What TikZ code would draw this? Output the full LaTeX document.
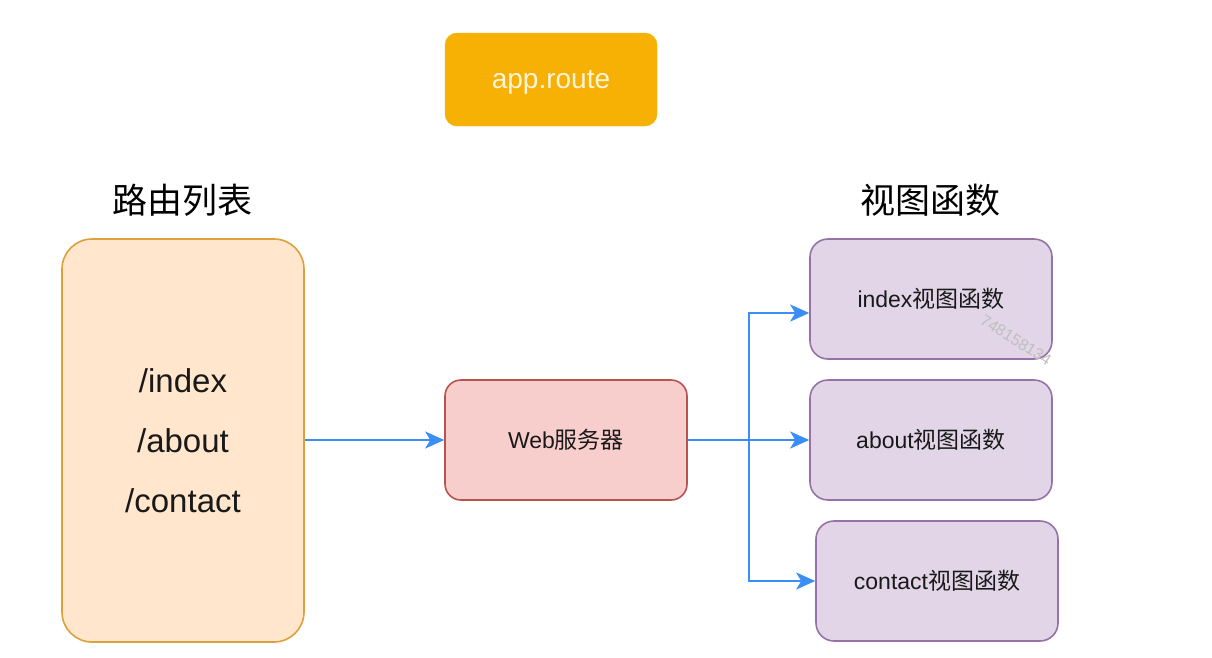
\documentclass[tikz,border=0pt]{standalone}
\usepackage{fontspec}
\setmainfont{Liberation Sans}
\newfontfamily\cjk{Noto Sans CJK SC}
\usetikzlibrary{arrows.meta,positioning}
\definecolor{routefill}{HTML}{F6B104}
\definecolor{listfill}{HTML}{FFE6CC}
\definecolor{listline}{HTML}{DDA03A}
\definecolor{webfill}{HTML}{F8CECC}
\definecolor{webline}{HTML}{B85450}
\definecolor{viewfill}{HTML}{E1D5E7}
\definecolor{viewline}{HTML}{9673A6}
\definecolor{flowblue}{HTML}{3A8EF6}
\definecolor{cream}{HTML}{FFF4DA}

\begin{document}
\begin{tikzpicture}[x=1pt,y=-1pt,
  box/.style={draw,line width=1.6pt,minimum width=242pt,minimum height=120pt,
    rounded corners=18pt,font=\fontsize{23}{28}\selectfont,text=black!90},
  flow/.style={flowblue,line width=2pt,-{Stealth[length=19pt,width=17pt,inset=5pt]}},
  title/.style={font=\cjk\fontsize{35}{40}\selectfont}]
  \useasboundingbox[fill=white] (0,0) rectangle (1212,657);
  % Top label
  \node[fill=routefill,draw=routefill,rounded corners=12pt,minimum width=212pt,
    minimum height=93pt,text=cream,text depth=0pt,font=\fontsize{28}{32}\selectfont] (app) at (551,79.5) {app.route};
  % Titles
  \node[title] (listtitle) at (182,200) {路由列表};
  \node[title] (viewtitle) at (930,200) {视图函数};
  % Route list
  \node[box,fill=listfill,draw=listline,minimum height=403pt,rounded corners=30pt,
    align=center,font=\fontsize{33}{60}\selectfont] (list) at (183,440.5)
    {/index\\/about\\/contact};
  % Server
  \node[box,fill=webfill,draw=webline,rounded corners=16pt] (web) at (566,440) {Web{\cjk 服务器}};
  % View functions
  \node[box,fill=viewfill,draw=viewline] (idx) at (931,299) {index{\cjk 视图函数}};
  \node[box,fill=viewfill,draw=viewline] (abt) at (931,440) {about{\cjk 视图函数}};
  \node[box,fill=viewfill,draw=viewline] (cnt) at (937,581) {contact{\cjk 视图函数}};
  % Watermark
  \node[rotate=-32,text=black!25,font=\fontsize{16}{16}\selectfont] (mark) at (1016,340) {748158134};
  % Arrows
  \coordinate (split) at (749,440);
  \draw[flow] (list.east |- web.west) -- (web.west);
  \draw[flow] (web.east) -- (abt.west);
  \draw[flow] (split) |- ([yshift=-14pt]idx.west);
  \draw[flow] (split) |- (cnt.west);
\end{tikzpicture}
\end{document}
